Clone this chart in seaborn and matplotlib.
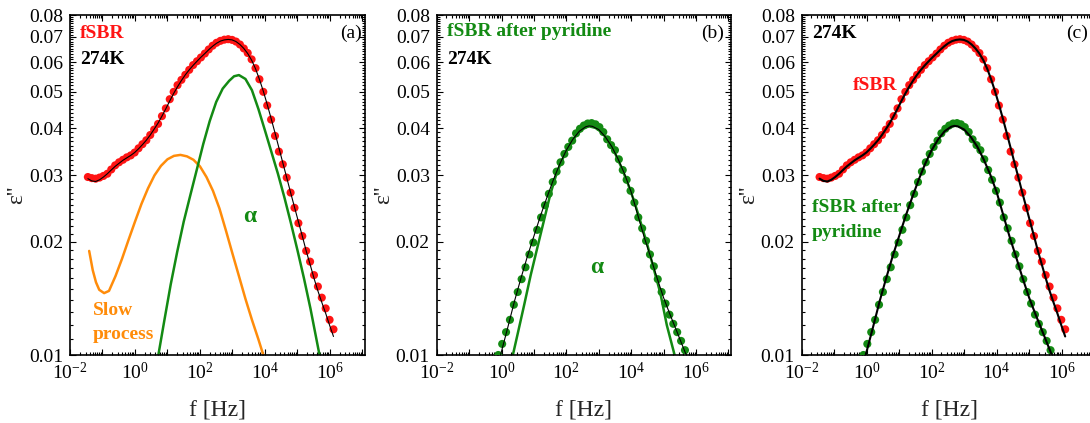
import numpy as np
import matplotlib
matplotlib.use("Agg")
import matplotlib.pyplot as plt
import matplotlib.ticker as mticker
import seaborn as sns

# ---------------- data (log10 of frequency in Hz, epsilon'') ----------------
logf_red = [-1.45, -1.33, -1.21, -1.09, -0.97, -0.85, -0.73, -0.61, -0.49, -0.37,
            -0.25, -0.13, -0.01, 0.11, 0.23, 0.35, 0.47, 0.59, 0.71, 0.83,
            0.95, 1.07, 1.19, 1.31, 1.43, 1.55, 1.67, 1.79, 1.91, 2.03,
            2.15, 2.27, 2.39, 2.51, 2.63, 2.75, 2.87, 2.99, 3.11, 3.23,
            3.35, 3.47, 3.59, 3.71, 3.83, 3.95, 4.07, 4.19, 4.31, 4.43,
            4.55, 4.67, 4.79, 4.91, 5.03, 5.15, 5.27, 5.39, 5.51, 5.63,
            5.75, 5.87, 5.99, 6.11]
eps_red = [0.0297, 0.0295, 0.0294, 0.0296, 0.0299, 0.0303, 0.0311, 0.0319, 0.0325, 0.0330,
           0.0335, 0.0339, 0.0345, 0.0354, 0.0363, 0.0372, 0.0384, 0.0397, 0.0411, 0.0431,
           0.0452, 0.0478, 0.0500, 0.0521, 0.0538, 0.0555, 0.0572, 0.0589, 0.0603, 0.0617,
           0.0632, 0.0648, 0.0663, 0.0675, 0.0683, 0.0688, 0.0690, 0.0687, 0.0680, 0.0668,
           0.0652, 0.0634, 0.0610, 0.0578, 0.0540, 0.0500, 0.0460, 0.0422, 0.0382, 0.0347,
           0.0321, 0.0296, 0.0270, 0.0246, 0.0224, 0.0207, 0.0189, 0.0177, 0.0163, 0.0152,
           0.0142, 0.0133, 0.0124, 0.0117]
fit_red = [0.0294, 0.0290, 0.0289, 0.0292, 0.0297, 0.0303, 0.0310, 0.0317, 0.0323, 0.0329,
           0.0334, 0.0339, 0.0345, 0.0353, 0.0362, 0.0372, 0.0384, 0.0398, 0.0413, 0.0431,
           0.0451, 0.0473, 0.0495, 0.0516, 0.0536, 0.0555, 0.0572, 0.0588, 0.0603, 0.0618,
           0.0632, 0.0647, 0.0661, 0.0673, 0.0682, 0.0687, 0.0689, 0.0687, 0.0680, 0.0668,
           0.0652, 0.0632, 0.0607, 0.0576, 0.0540, 0.0502, 0.0463, 0.0425, 0.0389, 0.0355,
           0.0324, 0.0296, 0.0270, 0.0247, 0.0226, 0.0207, 0.0189, 0.0174, 0.0160, 0.0148,
           0.0138, 0.0129, 0.0120, 0.0112]

logf_alpha_a = [0.72, 0.90, 1.10, 1.30, 1.50, 1.70, 1.90, 2.10, 2.30, 2.50, 2.70, 2.90,
                3.05, 3.20, 3.40, 3.60, 3.80, 4.00, 4.20, 4.40, 4.60, 4.80, 5.00, 5.20,
                5.40, 5.68]
eps_alpha_a = [0.0100, 0.0123, 0.0154, 0.0188, 0.0226, 0.0265, 0.0310, 0.0363, 0.0418, 0.0470,
               0.0510, 0.0535, 0.0550, 0.0554, 0.0541, 0.0505, 0.0450, 0.0395, 0.0346, 0.0303,
               0.0262, 0.0224, 0.0190, 0.0160, 0.0133, 0.0100]

logf_slow = [-1.41, -1.30, -1.20, -1.10, -0.95, -0.80, -0.60, -0.40, -0.20, 0.00,
             0.20, 0.40, 0.60, 0.80, 1.00, 1.20, 1.40, 1.60, 1.80, 2.00,
             2.20, 2.40, 2.60, 2.80, 3.00, 3.20, 3.40, 3.60, 3.80, 3.95]
eps_slow = [0.0189, 0.0168, 0.0156, 0.0149, 0.0146, 0.0148, 0.0162, 0.0180, 0.0202, 0.0226,
            0.0252, 0.0277, 0.0300, 0.0318, 0.0331, 0.0338, 0.0340, 0.0337, 0.0330, 0.0317,
            0.0297, 0.0273, 0.0245, 0.0214, 0.0186, 0.0162, 0.0141, 0.0124, 0.0110, 0.0100]

logf_green = [-0.10, 0.02, 0.14, 0.26, 0.38, 0.50, 0.62, 0.74, 0.86, 0.98,
              1.10, 1.22, 1.34, 1.46, 1.58, 1.70, 1.82, 1.94, 2.06, 2.18,
              2.30, 2.42, 2.54, 2.66, 2.78, 2.90, 3.02, 3.14, 3.26, 3.38,
              3.50, 3.62, 3.74, 3.86, 3.98, 4.10, 4.22, 4.34, 4.46, 4.58,
              4.70, 4.82, 4.94, 5.06, 5.18, 5.30, 5.42, 5.54, 5.66]
eps_green = [0.0100, 0.0107, 0.0115, 0.0124, 0.0136, 0.0147, 0.0159, 0.0171, 0.0185, 0.0199,
             0.0215, 0.0232, 0.0250, 0.0268, 0.0288, 0.0307, 0.0325, 0.0342, 0.0357, 0.0371,
             0.0388, 0.0399, 0.0407, 0.0412, 0.0413, 0.0410, 0.0403, 0.0391, 0.0374, 0.0361,
             0.0350, 0.0331, 0.0310, 0.0292, 0.0273, 0.0254, 0.0232, 0.0217, 0.0201, 0.0185,
             0.0172, 0.0159, 0.0147, 0.0137, 0.0128, 0.0121, 0.0115, 0.0109, 0.0103]

logf_fit_green = [-0.03, 0.20, 0.40, 0.60, 0.80, 1.00, 1.20, 1.40, 1.60, 1.80,
                  2.00, 2.20, 2.40, 2.60, 2.70, 2.80, 3.00, 3.20, 3.40, 3.60,
                  3.80, 4.00, 4.20, 4.40, 4.60, 4.80, 5.00, 5.20, 5.40, 5.60, 5.70]
fit_green = [0.0100, 0.0119, 0.0139, 0.0160, 0.0183, 0.0207, 0.0234, 0.0262, 0.0292, 0.0322,
             0.0350, 0.0374, 0.0393, 0.0404, 0.0406, 0.0405, 0.0397, 0.0380, 0.0358, 0.0331,
             0.0302, 0.0271, 0.0236, 0.0206, 0.0182, 0.0160, 0.0142, 0.0128, 0.0116, 0.0105,
             0.0100]

logf_alpha_b = [0.35, 0.50, 0.70, 0.90, 1.10, 1.30, 1.50, 1.70, 1.90, 2.10,
                2.30, 2.50, 2.70, 2.90, 3.10, 3.30, 3.50, 3.70, 3.90, 4.10,
                4.30, 4.50, 4.70, 4.90, 5.10, 5.34]
eps_alpha_b = [0.0100, 0.0114, 0.0136, 0.0163, 0.0192, 0.0226, 0.0266, 0.0304, 0.0334, 0.0360,
               0.0383, 0.0399, 0.0405, 0.0401, 0.0390, 0.0370, 0.0344, 0.0315, 0.0285, 0.0255,
               0.0224, 0.0196, 0.0169, 0.0146, 0.0120, 0.0100]

ytick_vals = [0.01, 0.02, 0.03, 0.04, 0.05, 0.06, 0.07, 0.08]

# ---------------- style ----------------
RED = "#ff1414"
GREEN = "#138a13"
ORANGE = "#ff8c0a"

sns.set_style("ticks")
plt.rcParams['font.family'] = ['Liberation Serif', 'DejaVu Serif']
plt.rcParams['mathtext.fontset'] = 'custom'
plt.rcParams['mathtext.rm'] = 'Liberation Serif'
plt.rcParams['mathtext.it'] = 'Liberation Serif:italic'
plt.rcParams['mathtext.bf'] = 'Liberation Serif:bold'

W, H = 1090, 423
fig = plt.figure(figsize=(W / 100, H / 100), dpi=100)


def make_ax(left, width):
    ax = fig.add_axes([left / W, 1 - 355 / H, width / W, 340 / H])
    ax.set_xscale('log')
    ax.set_yscale('log')
    ax.set_xlim(1e-2, 10 ** 7.08)
    ax.set_ylim(0.01, 0.08)
    ax.xaxis.set_major_locator(mticker.LogLocator(base=10, numticks=20))
    ax.xaxis.set_minor_locator(mticker.LogLocator(base=10, subs=np.arange(2, 10), numticks=20))

    def xfmt(v, p):
        e = int(round(np.log10(v)))
        return r'$\mathregular{10^{%d}}$' % e if e % 2 == 0 else ''
    ax.xaxis.set_major_formatter(mticker.FuncFormatter(xfmt))
    ax.xaxis.set_minor_formatter(mticker.NullFormatter())
    ax.yaxis.set_major_locator(mticker.FixedLocator(ytick_vals))
    ax.yaxis.set_major_formatter(mticker.FuncFormatter(lambda v, p: f"{v:.2f}"))
    ax.yaxis.set_minor_locator(mticker.MultipleLocator(0.001))
    ax.yaxis.set_minor_formatter(mticker.NullFormatter())
    ax.tick_params(which='both', direction='in', top=True, right=True, width=0.8,
                   colors='black', labelsize=14)
    ax.tick_params(which='major', length=4.5, pad=5)
    ax.tick_params(which='minor', length=2.5)
    for s in ax.spines.values():
        s.set_linewidth(1.2)
        s.set_color('black')
    ax.set_xlabel('f [Hz]', fontsize=17)
    ax.set_ylabel("ε''", fontsize=17)
    ax.xaxis.set_label_coords(0.5, -0.13)
    ax.yaxis.set_label_coords(-0.145, 0.47)
    return ax


def f(lst):
    return 10 ** np.asarray(lst)


def pts(ax, lf, ev, color):
    sns.scatterplot(x=f(lf), y=ev, ax=ax, color=color, s=34, edgecolor='none',
                    linewidth=0, zorder=3)


def line(ax, lf, ev, color, lw, z):
    sns.lineplot(x=f(lf), y=ev, ax=ax, color=color, lw=lw, estimator=None,
                 sort=False, zorder=z)


# ---------------- panel (a) ----------------
axa = make_ax(70, 295)
line(axa, logf_slow, eps_slow, ORANGE, 1.8, 2)
line(axa, logf_alpha_a, eps_alpha_a, GREEN, 1.8, 2)
pts(axa, logf_red, eps_red, RED)
line(axa, logf_red, fit_red, 'black', 0.8, 4)
bold = dict(fontweight='bold', transform=axa.transAxes, va='center')
axa.text(0.034, 0.947, 'fSBR', color=RED, fontsize=14, **bold)
axa.text(0.034, 0.868, '274K', color='black', fontsize=14, **bold)
axa.text(0.99, 0.947, '(a)', color='black', fontsize=14, ha='right', va='center',
         transform=axa.transAxes)
axa.text(0.61, 0.406, 'α', color=GREEN, fontsize=17, ha='center', **bold)
axa.text(0.078, 0.132, 'Slow', color=ORANGE, fontsize=14, **bold)
axa.text(0.078, 0.059, 'process', color=ORANGE, fontsize=14, **bold)

# ---------------- panel (b) ----------------
axb = make_ax(436.7, 294.3)
line(axb, logf_alpha_b, eps_alpha_b, GREEN, 1.8, 2)
pts(axb, logf_green, eps_green, GREEN)
line(axb, logf_fit_green, fit_green, 'black', 0.8, 4)
bold = dict(fontweight='bold', transform=axb.transAxes, va='center')
axb.text(0.035, 0.95, 'fSBR after pyridine', color=GREEN, fontsize=14, **bold)
axb.text(0.035, 0.868, '274K', color='black', fontsize=14, **bold)
axb.text(0.975, 0.947, '(b)', color='black', fontsize=14, ha='right', va='center',
         transform=axb.transAxes)
axb.text(0.545, 0.256, 'α', color=GREEN, fontsize=17, ha='center', **bold)

# ---------------- panel (c) ----------------
axc = make_ax(801.7, 295)
pts(axc, logf_red, eps_red, RED)
pts(axc, logf_green, eps_green, GREEN)
line(axc, logf_red, fit_red, 'black', 1.5, 4)
line(axc, logf_fit_green, fit_green, 'black', 1.5, 4)
bold = dict(fontweight='bold', transform=axc.transAxes, va='center')
axc.text(0.035, 0.947, '274K', color='black', fontsize=14, **bold)
axc.text(0.97, 0.947, '(c)', color='black', fontsize=14, ha='right', va='center',
         transform=axc.transAxes)
axc.text(0.174, 0.794, 'fSBR', color=RED, fontsize=14, **bold)
axc.text(0.035, 0.435, 'fSBR after', color=GREEN, fontsize=14, **bold)
axc.text(0.035, 0.359, 'pyridine', color=GREEN, fontsize=14, **bold)

fig.savefig('out.png', dpi=100)
